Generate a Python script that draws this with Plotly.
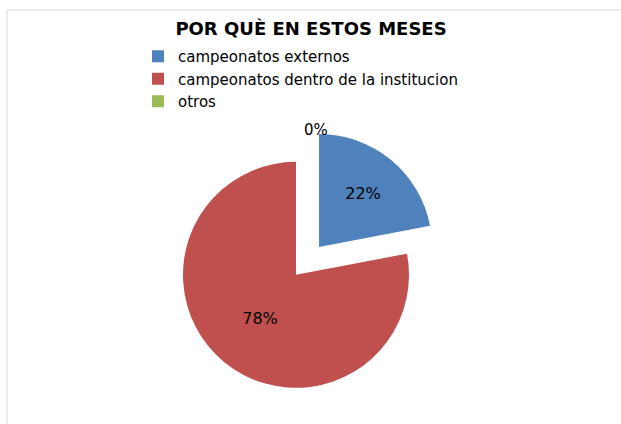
import plotly.graph_objects as go

# Survey answers: reasons for these months
labels = ["campeonatos externos", "campeonatos dentro de la institucion", "otros"]
values = [22, 78, 0]
colors = ["#4F81BD", "#C0504D", "#9BBB59"]
title_text = "POR QUÈ EN ESTOS MESES"

W, H = 621, 424
FONT = "DejaVu Sans, Arial, sans-serif"

# pie placement (pixels)
cx, r, pull = 296, 113, 0.32
half = r * (1 + pull)
cy = H - half

total = sum(values)
zero_label = f"{values[2] / total:.0%}"

fig = go.Figure(
    go.Pie(
        labels=labels,
        values=values,
        sort=False,
        direction="clockwise",
        rotation=0,
        pull=[pull, 0, 0],
        marker=dict(colors=colors, line=dict(width=0)),
        textinfo="percent",
        texttemplate="%{percent:.0%}",
        textposition=["inside", "inside", "none"],
        textfont=dict(family=FONT, size=16, color="#000000"),
        insidetextorientation="horizontal",
        automargin=False,
        domain=dict(
            x=[(cx - half) / W, (cx + half) / W],
            y=[0, 1 - (cy - half) / H],
        ),
        hoverinfo="label+percent",
    )
)

fig.update_layout(
    width=W,
    height=H,
    autosize=False,
    margin=dict(l=0, r=0, t=0, b=0, pad=0, autoexpand=False),
    paper_bgcolor="white",
    plot_bgcolor="white",
    title=dict(
        text="<b>" + title_text + "</b>",
        x=311 / W,
        xanchor="center",
        y=1 - 28.5 / H,
        yanchor="middle",
        font=dict(family=FONT, size=18, color="#000000"),
        automargin=False,
    ),
    legend=dict(
        x=138 / W,
        xanchor="left",
        y=1 - 40 / H,
        yanchor="top",
        font=dict(family=FONT, size=15, color="#000000"),
        bgcolor="rgba(0,0,0,0)",
        itemwidth=30,
    ),
    annotations=[
        dict(
            text=zero_label,
            x=316 / W,
            y=1 - 130 / H,
            xref="paper",
            yref="paper",
            xanchor="center",
            yanchor="middle",
            showarrow=False,
            font=dict(family=FONT, size=15, color="#000000"),
        )
    ],
    shapes=[
        dict(
            type="rect",
            xref="paper",
            yref="paper",
            x0=7 / W,
            x1=1.05,
            y0=-0.05,
            y1=1 - 10 / H,
            line=dict(color="#d9d9d9", width=1),
            fillcolor="rgba(0,0,0,0)",
            layer="below",
        ),
    ],
)

fig.write_html("out.html")
